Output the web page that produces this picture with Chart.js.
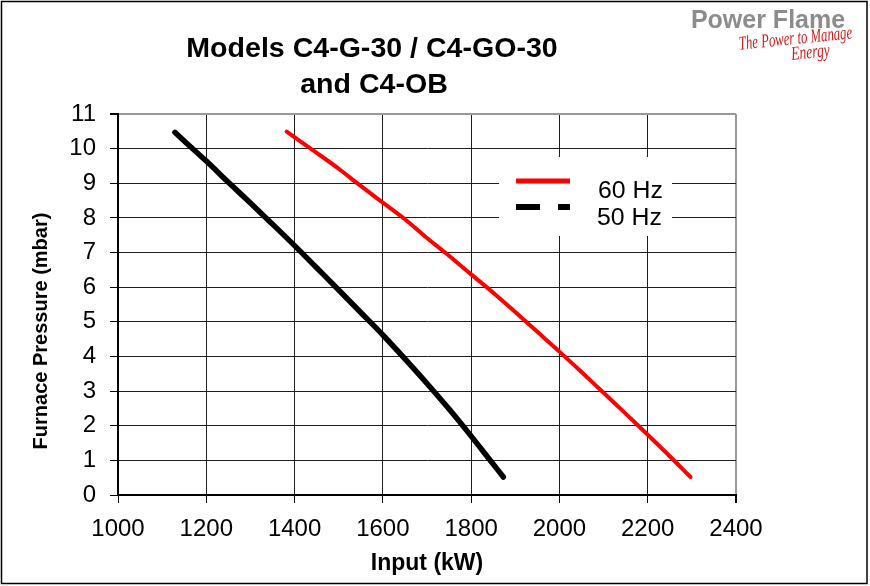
<!DOCTYPE html>
<html><head><meta charset="utf-8">
<script src="https://cdn.jsdelivr.net/npm/chart.js@4.4.1/dist/chart.umd.min.js"></script>
<style>html,body{margin:0;padding:0;background:#fff;}#wrap{width:870px;height:586px;position:relative;}</style>
</head><body><div id="wrap"><canvas id="c" width="870" height="586"></canvas></div>
<script>
// ---- data ----
const titleLines = ['Models C4-G-30 / C4-GO-30', 'and C4-OB'];
const xAxisTitle = 'Input (kW)';
const yAxisTitle = 'Furnace Pressure (mbar)';
const xTicks = [1000, 1200, 1400, 1600, 1800, 2000, 2200, 2400];
const yTicks = [0, 1, 2, 3, 4, 5, 6, 7, 8, 9, 10, 11];
const seriesNames = ['60 Hz', '50 Hz'];
const seriesColors = ['#ff0000', '#000000'];

const input60    = [1382, 1442, 1500, 1541, 1600, 1650, 1700, 1741, 1800, 1850, 1900, 1950, 2000, 2050, 2100, 2150, 2200, 2250, 2297];
const pressure60 = [10.49, 9.95, 9.42, 9.01, 8.44, 7.96, 7.42, 7.0, 6.37, 5.84, 5.28, 4.71, 4.14, 3.55, 2.95, 2.35, 1.74, 1.12, 0.52];

const input50    = [1129, 1150, 1200, 1250, 1300, 1350, 1400, 1450, 1500, 1550, 1600, 1650, 1700, 1750, 1800, 1839, 1873];
const pressure50 = [10.47, 10.22, 9.64, 9.03, 8.43, 7.82, 7.2, 6.56, 5.92, 5.27, 4.62, 3.93, 3.22, 2.48, 1.70, 1.07, 0.52];

const FONT = '"Liberation Sans", Arial, Helvetica, sans-serif';

const pts = (xs, ys) => xs.map((x, i) => ({ x: x, y: ys[i] }));

const bgPlugin = {
  id: 'bg',
  beforeDraw(chart) {
    const c = chart.ctx;
    c.save(); c.fillStyle = '#fff'; c.fillRect(0, 0, chart.width, chart.height); c.restore();
  }
};

function stretchedText(c, text, x, y, font, color, sx, align) {
  c.save();
  c.font = font; c.fillStyle = color; c.textBaseline = 'alphabetic';
  const w = c.measureText(text).width * sx;
  let left = x;
  if (align === 'center') left = x - w / 2;
  else if (align === 'right') left = x - w;
  c.translate(left, y); c.scale(sx, 1);
  c.textAlign = 'left';
  c.fillText(text, 0, 0);
  c.restore();
}

const legendPlugin = {
  id: 'legendBox',
  beforeDatasetsDraw(chart) {
    const c = chart.ctx;
    c.save();
    c.fillStyle = '#fff';
    c.fillRect(499, 157, 173, 79);
    c.strokeStyle = seriesColors[0]; c.lineWidth = 5; c.lineCap = 'butt';
    c.beginPath(); c.moveTo(516, 181); c.lineTo(570, 181); c.stroke();
    c.strokeStyle = seriesColors[1]; c.lineWidth = 6;
    c.beginPath(); c.moveTo(516, 207); c.lineTo(540, 207); c.moveTo(558, 207); c.lineTo(570, 207); c.stroke();
    c.restore();
    stretchedText(c, seriesNames[0], 598, 198, '23px ' + FONT, '#000', 1.08, 'left');
    stretchedText(c, seriesNames[1], 597, 225, '23px ' + FONT, '#000', 1.08, 'left');
  }
};

const decoPlugin = {
  id: 'deco',
  afterDraw(chart) {
    const c = chart.ctx;
    // title
    stretchedText(c, titleLines[0], 372, 57, 'bold 28px ' + FONT, '#000', 1.02, 'center');
    stretchedText(c, titleLines[1], 374, 93, 'bold 28px ' + FONT, '#000', 1.02, 'center');
    // y axis title
    c.save();
    c.translate(47, 331); c.rotate(-Math.PI / 2);
    c.font = 'bold 20px ' + FONT; c.fillStyle = '#000'; c.textAlign = 'center'; c.textBaseline = 'alphabetic';
    c.fillText(yAxisTitle, 0, 0);
    c.restore();
    // logo
    stretchedText(c, 'Power Flame', 768, 28, 'bold 25px ' + FONT, '#8c8c8c', 1.0, 'center');
    c.save();
    c.fillStyle = '#d01c1c';
    c.font = 'italic 17px "Liberation Serif", serif';
    c.translate(796, 44); c.rotate(-0.1); c.scale(0.75, 1.15);
    c.textAlign = 'center';
    c.fillText('The Power to Manage', 0, 0);
    c.restore();
    c.save();
    c.fillStyle = '#d01c1c';
    c.font = 'italic 17px "Liberation Serif", serif';
    c.translate(811, 58); c.rotate(-0.1); c.scale(0.8, 1.15);
    c.textAlign = 'center';
    c.fillText('Energy', 0, 0);
    c.restore();
    // outer frame
    c.save();
    c.strokeStyle = '#000'; c.lineWidth = 1.5;
    c.strokeRect(1.5, 1.5, 865.5, 582);
    c.restore();
  }
};

new Chart(document.getElementById('c'), {
  type: 'line',
  data: {
    datasets: [
      { label: seriesNames[0], data: pts(input60, pressure60), borderColor: seriesColors[0], borderWidth: 4, pointRadius: 0, cubicInterpolationMode: 'monotone', borderCapStyle: 'round', borderJoinStyle: 'round', fill: false },
      { label: seriesNames[1], data: pts(input50, pressure50), borderColor: seriesColors[1], borderWidth: 5.5, pointRadius: 0, cubicInterpolationMode: 'monotone', borderCapStyle: 'round', borderJoinStyle: 'round', fill: false }
    ]
  },
  options: {
    responsive: false,
    animation: false,
    devicePixelRatio: 1,
    layout: { padding: { left: 0, top: 114, right: 134, bottom: 0 } },
    plugins: { legend: { display: false }, title: { display: false }, tooltip: { enabled: false } },
    scales: {
      x: {
        type: 'linear', min: 1000, max: 2400,
        afterBuildTicks: s => { s.ticks = xTicks.map(v => ({ value: v })); },
        afterFit: s => { s.height = 91; },
        grid: {
          color: ctx => (ctx.tick && ctx.tick.value === 2400) ? '#9a9a9a' : '#1e1e1e',
          lineWidth: ctx => (ctx.tick && ctx.tick.value === 2400) ? 2 : 1,
          tickColor: '#000', tickLength: 8, drawTicks: true
        },
        border: { display: true, color: '#000', width: 2 },
        ticks: { color: '#000', font: { family: FONT, size: 24 }, padding: 12, maxRotation: 0, autoSkip: false, callback: v => String(v) },
        title: { display: true, text: xAxisTitle, color: '#000', font: { family: FONT, size: 23, weight: 'bold' }, padding: { top: 0, bottom: 9 } }
      },
      y: {
        type: 'linear', min: 0, max: 11,
        afterBuildTicks: s => { s.ticks = yTicks.map(v => ({ value: v })); },
        afterFit: s => { s.width = 118; },
        grid: {
          color: ctx => (ctx.tick && ctx.tick.value === 11) ? '#9a9a9a' : '#1e1e1e',
          lineWidth: ctx => (ctx.tick && ctx.tick.value === 11) ? 2 : 1,
          tickColor: '#000', tickLength: 8, drawTicks: true
        },
        border: { display: true, color: '#000', width: 2 },
        ticks: { color: '#000', font: { family: FONT, size: 24 }, padding: 14, autoSkip: false, callback: v => String(v) },
        title: { display: false }
      }
    }
  },
  plugins: [bgPlugin, legendPlugin, decoPlugin]
});
</script>
</body></html>
